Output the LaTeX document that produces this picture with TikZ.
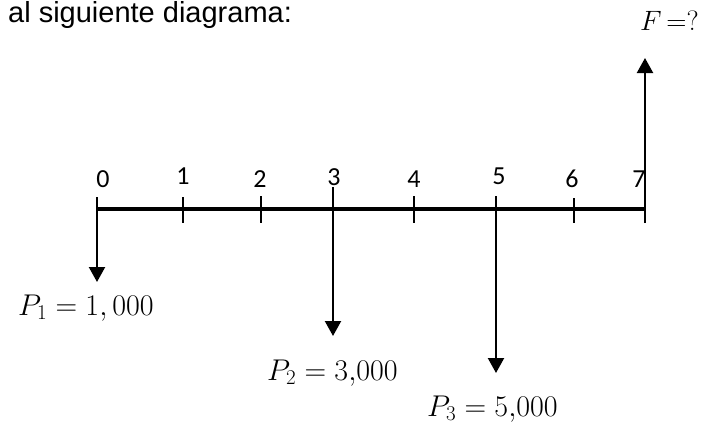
\documentclass[tikz,border=0pt]{standalone}
\usepackage{fix-cm}
\usepackage[no-math]{fontspec}
\setmainfont{Liberation Sans}
\newfontfamily\yearfont{Carlito}
\usetikzlibrary{arrows.meta, positioning}
\tikzset{
  axis/.style     = {line width=3.5pt},
  tickmark/.style = {line width=1.8pt},
  flow/.style     = {-{Triangle[length=15pt, width=16pt]}, line width=2.2pt},
  year/.style     = {font=\yearfont\fontsize{26}{30}\selectfont, anchor=base, inner sep=0pt},
  amount/.style   = {font=\fontsize{30}{34}\selectfont, anchor=base west, inner sep=0pt},
}

\begin{document}
\begin{tikzpicture}[x=1pt, y=-1pt]
  \useasboundingbox (0,0) rectangle (702,426);

  \node[anchor=base west, inner sep=0pt, font=\fontsize{29}{34}\selectfont] (intro) at (8,22) {al siguiente diagrama:};

  % time line
  \foreach \n/\x/\top/\lx/\ly in {0/97/197/103/187, 1/183/197/183/184, 2/261/196/260/187,
                                   3/333/187/334/185, 4/414/196/414/187, 5/496/196/499/184,
                                   6/574/198/572/187, 7/645/209/639/187} {
    \coordinate (t\n) at (\x,209);
    \coordinate (u\n) at (\x,\top);
    \coordinate (d\n) at (\x,223);
    \draw[tickmark] (u\n) -- (d\n);
    \node[year] (l\n) at (\lx,\ly) {\n};
  }
  \draw[axis] (t0) -- (t7);

  % cash flows
  \coordinate (e1) at (97,282);
  \coordinate (e2) at (333,336);
  \coordinate (e3) at (496,373);
  \coordinate (ef) at (645,58);
  \draw[flow] (u0) -- (e1);
  \draw[flow] (u3) -- (e2);
  \draw[flow] (u5) -- (e3);
  \draw[flow] (d7) -- (ef);

  \node[amount] (P1) at (18,315) {$P_1 = 1,000$};
  \node[amount] (P2) at (267,380) {$P_2 = 3{,}000$};
  \node[amount] (P3) at (427,416) {$P_3 = 5{,}000$};
  \node[amount, font=\fontsize{28}{32}\selectfont] (F) at (640,30) {$F\,\mathord{=}\mathord{?}$};
\end{tikzpicture}
\end{document}
